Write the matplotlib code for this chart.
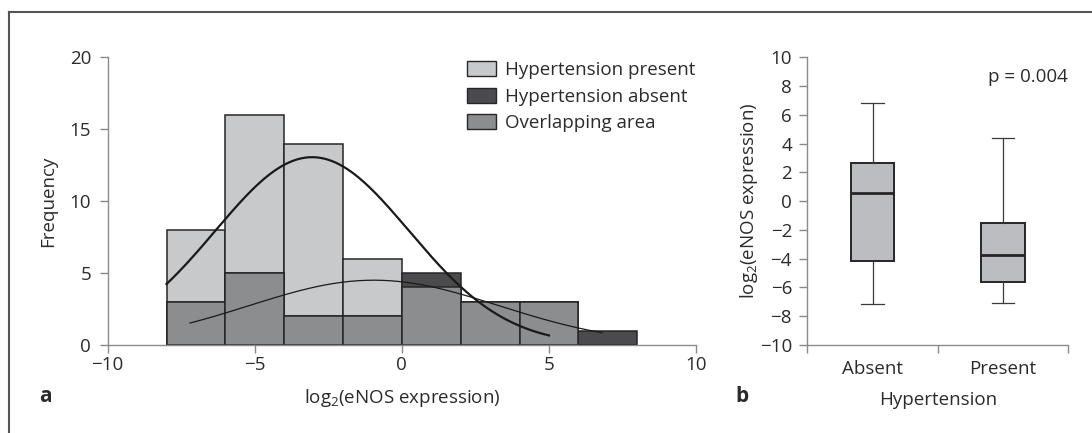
import numpy as np
import matplotlib
matplotlib.use('Agg')
import matplotlib.pyplot as plt
from matplotlib.patches import Patch
from matplotlib.lines import Line2D

plt.rcParams['font.family'] = ['Open Sans', 'DejaVu Sans']
plt.rcParams['mathtext.fontset'] = 'custom'
plt.rcParams['mathtext.rm'] = 'Open Sans'
plt.rcParams['mathtext.it'] = 'Open Sans'
plt.rcParams['font.size'] = 13.5
plt.rcParams['text.color'] = '#2b2b2b'
plt.rcParams['axes.labelcolor'] = '#2b2b2b'
plt.rcParams['xtick.color'] = '#8a8a8a'
plt.rcParams['ytick.color'] = '#8a8a8a'
plt.rcParams['xtick.labelcolor'] = '#2b2b2b'
plt.rcParams['ytick.labelcolor'] = '#2b2b2b'

# histogram (bins of width 2)
bin_left = [-8, -6, -4, -2, 0, 2, 4, 6]
present_counts = [8, 16, 14, 6, 4, 3, 3, 0]
absent_counts = [3, 5, 2, 2, 5, 3, 3, 1]
bin_width = 2

# fitted normal curves: mean, sd, n, x range
present_fit = dict(mean=-3.05, sd=3.3, n=54, x0=-8.0, x1=5.0)
absent_fit = dict(mean=-0.95, sd=4.25, n=24, x0=-7.2, x1=6.8)

# box plot
groups = ['Absent', 'Present']
box_q1 = [-4.15, -5.6]
box_med = [0.55, -3.73]
box_q3 = [2.63, -1.5]
whis_lo = [-7.15, -7.05]
whis_hi = [6.8, 4.42]
p_text = 'p = 0.004'

c_present = '#c8c9cb'
c_absent = '#4b4b4d'
c_overlap = '#8c8d8f'
c_box = '#bcbdc1'
c_edge = '#262626'
c_spine = '#8a8a8a'

fig = plt.figure(figsize=(10.92, 4.33), dpi=100)

# ---- panel a ----
ax = fig.add_axes([0.0986, 0.2032, 0.5388, 0.6645])
overlap = np.minimum(present_counts, absent_counts)
ax.bar(bin_left, present_counts, width=bin_width, align='edge', color=c_present, edgecolor=c_edge, linewidth=1.1)
ax.bar(bin_left, absent_counts, width=bin_width, align='edge', color=c_absent, edgecolor=c_edge, linewidth=1.1)
ax.bar(bin_left, overlap, width=bin_width, align='edge', color=c_overlap, edgecolor=c_edge, linewidth=1.1)

for fit, lw in [(present_fit, 1.6), (absent_fit, 0.9)]:
    xs = np.linspace(fit['x0'], fit['x1'], 200)
    ys = fit['n'] * bin_width / (fit['sd'] * np.sqrt(2 * np.pi)) * np.exp(-(xs - fit['mean'])**2 / (2 * fit['sd']**2))
    ax.plot(xs, ys, color='#1a1a1a', lw=lw)

ax.set_xlim(-10, 10)
ax.set_ylim(0, 20)
ax.set_xticks([-10, -5, 0, 5, 10])
ax.set_xticklabels(['\u221210', '\u22125', '0', '5', '10'])
ax.set_yticks([0, 5, 10, 15, 20])
for s in ['top', 'right']:
    ax.spines[s].set_visible(False)
for s in ['left', 'bottom']:
    ax.spines[s].set_color(c_spine)
    ax.spines[s].set_linewidth(1.0)
ax.tick_params(axis='both', length=6, width=1.0, pad=2)
ax.tick_params(axis='y', pad=6)
ax.set_xlabel('log$_2$(eNOS expression)', labelpad=9)
ax.set_ylabel('Frequency', labelpad=9)

handles = [Patch(facecolor=c_present, edgecolor=c_edge, label='Hypertension present'),
           Patch(facecolor=c_absent, edgecolor=c_edge, label='Hypertension absent'),
           Patch(facecolor=c_overlap, edgecolor=c_edge, label='Overlapping area')]
fig.legend(handles=handles, loc='upper left', bbox_to_anchor=(458 / 1092, 1 - 52 / 433),
           frameon=False, borderpad=0, handlelength=1.5, handleheight=0.85,
           handletextpad=0.5, labelspacing=0.45, fontsize=13.5)

# ---- panel b ----
bx = fig.add_axes([0.7393, 0.2032, 0.2390, 0.6645])
stats = []
for i, g in enumerate(groups):
    stats.append(dict(label=g, med=box_med[i], q1=box_q1[i], q3=box_q3[i],
                      whislo=whis_lo[i], whishi=whis_hi[i], fliers=[]))
bx.bxp(stats, positions=[0, 1], widths=0.335, patch_artist=True, showfliers=False,
       boxprops=dict(facecolor=c_box, edgecolor=c_edge, linewidth=1.4),
       medianprops=dict(color=c_edge, linewidth=2.0),
       whiskerprops=dict(color='#3a3a3a', linewidth=0.9),
       capprops=dict(color='#3a3a3a', linewidth=0.9), capwidths=0.17)
bx.set_xlim(-0.5, 1.5)
bx.set_ylim(-10, 10)
bx.set_yticks(np.arange(-10, 11, 2))
bx.set_yticklabels([('\u2212' + str(-v)) if v < 0 else str(v) for v in range(-10, 11, 2)])
bx.set_xticks([-0.5, 0.5, 1.5])
bx.set_xticklabels(['', '', ''])
for i, g in enumerate(groups):
    bx.text(i, -11.65, g, ha='center', va='center', fontsize=13.5)
for s in ['top', 'right']:
    bx.spines[s].set_visible(False)
for s in ['left', 'bottom']:
    bx.spines[s].set_color(c_spine)
    bx.spines[s].set_linewidth(1.0)
bx.tick_params(axis='both', length=6, width=1.0, pad=2)
bx.tick_params(axis='y', pad=5)
bx.set_xlabel('Hypertension', labelpad=25)
bx.set_ylabel('log$_2$(eNOS expression)', labelpad=0)
bx.text(1.0, 0.93, p_text, transform=bx.transAxes, ha='right', va='center', fontsize=13.5)

# panel letters
fig.text(45 / 1092, 1 - 397 / 433, 'a', fontsize=15, fontweight='bold', ha='center', va='center')
fig.text(742 / 1092, 1 - 396 / 433, 'b', fontsize=15, fontweight='bold', ha='center', va='center')

# frame lines (top and left)
fig.add_artist(Line2D([9 / 1092, 1.0], [1 - 11.7 / 433] * 2, color='#555555', lw=1.5))
fig.add_artist(Line2D([9 / 1092] * 2, [0, 1 - 11.7 / 433], color='#555555', lw=1.5))

fig.savefig('out.png', dpi=100)
